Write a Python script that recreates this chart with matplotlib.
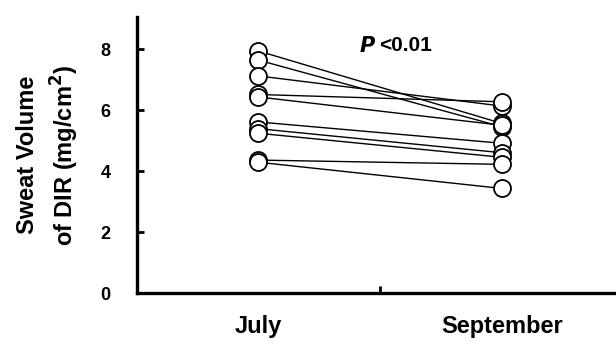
import matplotlib.pyplot as plt

plt.rcParams['font.family'] = ['Liberation Sans', 'DejaVu Sans']
plt.rcParams['font.weight'] = 'bold'

# valores (mg/cm2), um por sujeito
meses = ['July', 'September']
julho = [7.94, 7.64, 7.12, 6.51, 6.43, 5.61, 5.39, 5.24, 4.36, 4.29]
setembro = [5.56, 5.45, 6.13, 6.27, 5.50, 4.91, 4.60, 4.45, 4.22, 3.43]
yticks = [0, 2, 4, 6, 8]

fig = plt.figure(figsize=(6.16, 3.44), dpi=100)
ax = fig.add_axes([0.2224, 0.148, 0.7776, 0.8026])

for a, b in zip(julho, setembro):
    ax.plot([0, 1], [a, b], color='black', linewidth=1.0, zorder=2)
ax.scatter([0] * len(julho), julho, s=150, facecolors='white', edgecolors='black',
           linewidths=1.3, zorder=3)
ax.scatter([1] * len(setembro), setembro, s=150, facecolors='white', edgecolors='black',
           linewidths=1.3, zorder=3)

ax.set_xlim(-0.496, 1.467)
ax.set_ylim(0, 9.05)
ax.set_yticks(yticks)
ax.set_yticklabels([str(t) for t in yticks], fontsize=13, fontweight='bold')
ax.set_xticks([0.5])
ax.set_xticklabels([''])
ax.tick_params(axis='both', direction='in', length=5, width=2, pad=19)

for lado in ['top', 'right']:
    ax.spines[lado].set_visible(False)
for lado in ['left', 'bottom']:
    ax.spines[lado].set_linewidth(2.4)

for i, m in enumerate(meses):
    ax.text(i, -0.72, m, ha='center', va='top', fontsize=17, fontweight='bold')

ax.text(0.485, 8.1, '$\\boldsymbol{P}$', ha='right', va='center', fontsize=15)
ax.text(0.495, 8.1, '<0.01', ha='left', va='center', fontsize=15, fontweight='bold')

ax.set_ylabel('Sweat Volume\nof DIR (mg/cm$^{\\mathbf{2}}$)', fontsize=17, fontweight='bold',
              linespacing=1.4, labelpad=14)

fig.savefig('out.png', dpi=100)
